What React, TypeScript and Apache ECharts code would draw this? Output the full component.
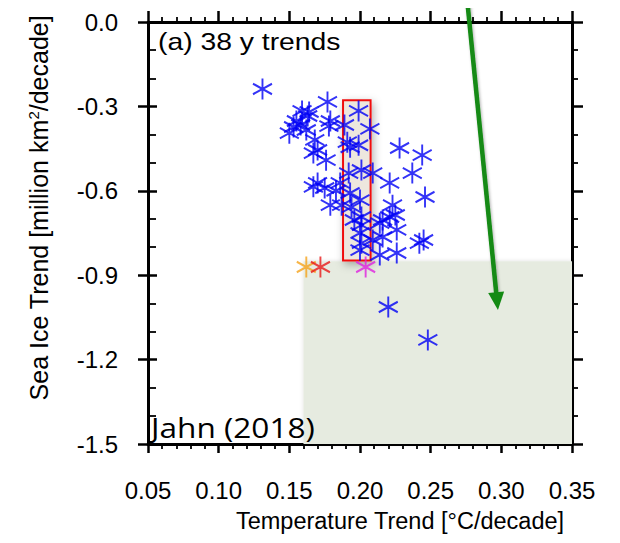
import React, { useEffect, useRef } from "react";
import * as echarts from "echarts";

// Blue model trends: [temperature trend (°C/decade), sea-ice trend (million km²/decade)]
const blueTemp = [
  0.131, 0.159, 0.163, 0.155, 0.150, 0.158, 0.162, 0.153, 0.164, 0.177,
  0.179, 0.178, 0.168, 0.170, 0.167, 0.176, 0.170, 0.167, 0.186, 0.179,
  0.187, 0.192, 0.193, 0.196, 0.199, 0.207, 0.189, 0.191, 0.199, 0.193,
  0.201, 0.200, 0.194, 0.201, 0.201, 0.200, 0.201, 0.200, 0.228, 0.244,
  0.237, 0.221, 0.209, 0.246, 0.223, 0.225, 0.216, 0.214, 0.221, 0.226,
  0.216, 0.209, 0.226, 0.214, 0.245, 0.242, 0.220, 0.248, 0.183, 0.175
];
const blueIce = [
  -0.238, -0.316, -0.334, -0.352, -0.395, -0.366, -0.384, -0.373, -0.320, -0.284,
  -0.352, -0.370, -0.419, -0.455, -0.466, -0.491, -0.572, -0.586, -0.572, -0.651,
  -0.651, -0.537, -0.608, -0.704, -0.316, -0.380, -0.366, -0.427, -0.438, -0.445,
  -0.526, -0.633, -0.658, -0.693, -0.722, -0.750, -0.786, -0.811, -0.448, -0.473,
  -0.537, -0.572, -0.537, -0.622, -0.651, -0.686, -0.704, -0.715, -0.693, -0.739,
  -0.764, -0.775, -0.821, -0.828, -0.775, -0.786, -1.013, -1.130, -0.600, -0.590
];
// Special markers
const orangePoint = [0.162, -0.871];
const redPoint = [0.172, -0.871];
const magentaPoint = [0.204, -0.871];

// Shaded regions (data coordinates)
const greenRegion = [[0.16, -0.85], [0.35, -1.5]];
const redBox = [[0.188, -0.278], [0.2075, -0.848]];
// Arrow (data coordinates)
const arrowStart = [0.2757, 0.085];
const arrowEnd = [0.2976, -1.024];

const xTicks = { min: 0.05, max: 0.35, interval: 0.05 };
const yTicks = { min: -1.5, max: 0.0, interval: 0.3 };

const STAR = "path://M0,-10L0,10M-8.66,-5L8.66,5M-8.66,5L8.66,-5";
const FONT = "Liberation Sans";

function starSeries(name: string, pts: number[][], color: string, z = 5) {
  return {
    name,
    type: "scatter",
    data: pts,
    symbol: STAR,
    symbolSize: [19, 21],
    z,
    itemStyle: { color: "rgba(0,0,0,0)", borderColor: color, borderWidth: 2 },
  };
}

export default function App() {
  const ref = useRef<HTMLDivElement>(null);
  useEffect(() => {
    if (!ref.current) return;
    const chart = echarts.init(ref.current, undefined, { renderer: "svg" });
    const bluePts = blueTemp.map((t, i) => [t, blueIce[i]]);
    const axisLine = { show: true, onZero: false, lineStyle: { color: "#000", width: 3 } };
    const majorTick = (len: number, inside = false) => ({
      show: true,
      inside,
      length: len,
      lineStyle: { color: "#000", width: 2.5 },
    });
    const minor = (n: number, len: number) => ({
      show: true,
      splitNumber: n,
      length: len,
      lineStyle: { color: "#000", width: 1.8 },
    });
    const option: any = {
      animation: false,
      grid: { left: 140, right: 56, top: 14, bottom: 107 },
      xAxis: [
        {
          type: "value",
          min: xTicks.min,
          max: xTicks.max,
          interval: xTicks.interval,
          position: "bottom",
          axisLine,
          axisTick: majorTick(9),
          minorTick: minor(5, 5),
          splitLine: { show: false },
          axisLabel: {
            color: "#000",
            fontFamily: FONT,
            fontSize: 24,
            margin: 34,
            formatter: (v: number) => v.toFixed(2),
          },
          name: "Temperature Trend [°C/decade]",
          nameLocation: "middle",
          nameGap: 65,
          nameTextStyle: { color: "#000", fontFamily: FONT, fontSize: 23.5, padding: [0, 0, 0, 80] },
        },
        {
          type: "value",
          min: xTicks.min,
          max: xTicks.max,
          interval: xTicks.interval,
          position: "top",
          axisLine,
          axisTick: majorTick(11),
          minorTick: minor(5, 5),
          splitLine: { show: false },
          axisLabel: { show: false },
        },
      ],
      yAxis: [
        {
          type: "value",
          min: yTicks.min,
          max: yTicks.max,
          interval: yTicks.interval,
          position: "left",
          axisLine,
          axisTick: majorTick(9, true),
          minorTick: minor(3, 8),
          splitLine: { show: false },
          axisLabel: {
            color: "#000",
            fontFamily: FONT,
            fontSize: 24,
            margin: 30,
            formatter: (v: number) => v.toFixed(1),
          },
          name: "Sea Ice Trend [million km{sup|2}/decade]",
          nameLocation: "middle",
          nameGap: 96,
          nameTextStyle: {
            color: "#000",
            fontFamily: FONT,
            fontSize: 25,
            padding: [0, 0, 0, 50],
            rich: { sup: { fontFamily: FONT, fontSize: 15, verticalAlign: "top", padding: [0, 0, 11, 0], color: "#000" } },
          },
        },
        {
          type: "value",
          min: yTicks.min,
          max: yTicks.max,
          interval: yTicks.interval,
          position: "left",
          axisLine: { show: false },
          axisTick: majorTick(10),
          minorTick: { show: false },
          splitLine: { show: false },
          axisLabel: { show: false },
        },
        {
          type: "value",
          min: yTicks.min,
          max: yTicks.max,
          interval: yTicks.interval,
          position: "right",
          axisLine,
          axisTick: majorTick(11),
          minorTick: minor(3, 6),
          splitLine: { show: false },
          axisLabel: { show: false },
        },
      ],
      series: [
        {
          name: "regions",
          type: "scatter",
          data: [],
          z: 1,
          markArea: {
            silent: true,
            data: [
              [
                { coord: greenRegion[0], itemStyle: { color: "#e6ebe0", borderWidth: 0, shadowBlur: 4, shadowColor: "rgba(0,0,0,0.12)" } },
                { coord: greenRegion[1] },
              ],
              [
                {
                  coord: redBox[0],
                  itemStyle: {
                    color: "#ede7de",
                    borderColor: "#f01010",
                    borderWidth: 2,
                    shadowBlur: 8,
                    shadowOffsetX: 2,
                    shadowOffsetY: 3,
                    shadowColor: "rgba(0,0,0,0.3)",
                  },
                },
                { coord: redBox[1] },
              ],
            ],
          },
        },
        starSeries("models", bluePts, "#0000f5"),
        starSeries("orange", [orangePoint], "#f5a31a", 6),
        starSeries("red", [redPoint], "#e81818", 7),
        starSeries("magenta", [magentaPoint], "#e020e0", 7),
      ],
    };
    chart.setOption(option);

    const p0 = chart.convertToPixel({ xAxisIndex: 0, yAxisIndex: 0 }, arrowStart) as number[];
    const p1 = chart.convertToPixel({ xAxisIndex: 0, yAxisIndex: 0 }, arrowEnd) as number[];
    const dx = p1[0] - p0[0];
    const dy = p1[1] - p0[1];
    const len = Math.sqrt(dx * dx + dy * dy);
    const ux = dx / len;
    const uy = dy / len;
    const headL = 18;
    const headW = 8;
    const base = [p1[0] - ux * headL, p1[1] - uy * headL];
    const green = "#138a13";
    chart.setOption({
      graphic: [
        {
          type: "line",
          z: 20,
          shape: { x1: p0[0], y1: p0[1], x2: base[0] + ux * 2, y2: base[1] + uy * 2 },
          style: { stroke: green, lineWidth: 4.5, shadowBlur: 3, shadowColor: "rgba(0,0,0,0.3)", shadowOffsetX: 1, shadowOffsetY: 1 },
        },
        {
          type: "polygon",
          z: 20,
          shape: {
            points: [
              [p1[0], p1[1]],
              [base[0] - uy * headW, base[1] + ux * headW],
              [base[0] + uy * headW, base[1] - ux * headW],
            ],
          },
          style: { fill: green },
        },
        {
          type: "text",
          x: 150,
          y: 22,
          scaleX: 1.18,
          z: 30,
          style: { text: "(a) 38 y trends", font: `24px "${FONT}"`, fill: "#000" },
        },
        {
          type: "text",
          x: 143,
          y: 406,
          scaleX: 1.17,
          z: 30,
          style: { text: "Jahn (2018)", font: `27px "Open Sans"`, fill: "#000" },
        },
      ],
    });
    return () => chart.dispose();
  }, []);
  return <div ref={ref} style={{ width: 620, height: 543 }} />;
}
